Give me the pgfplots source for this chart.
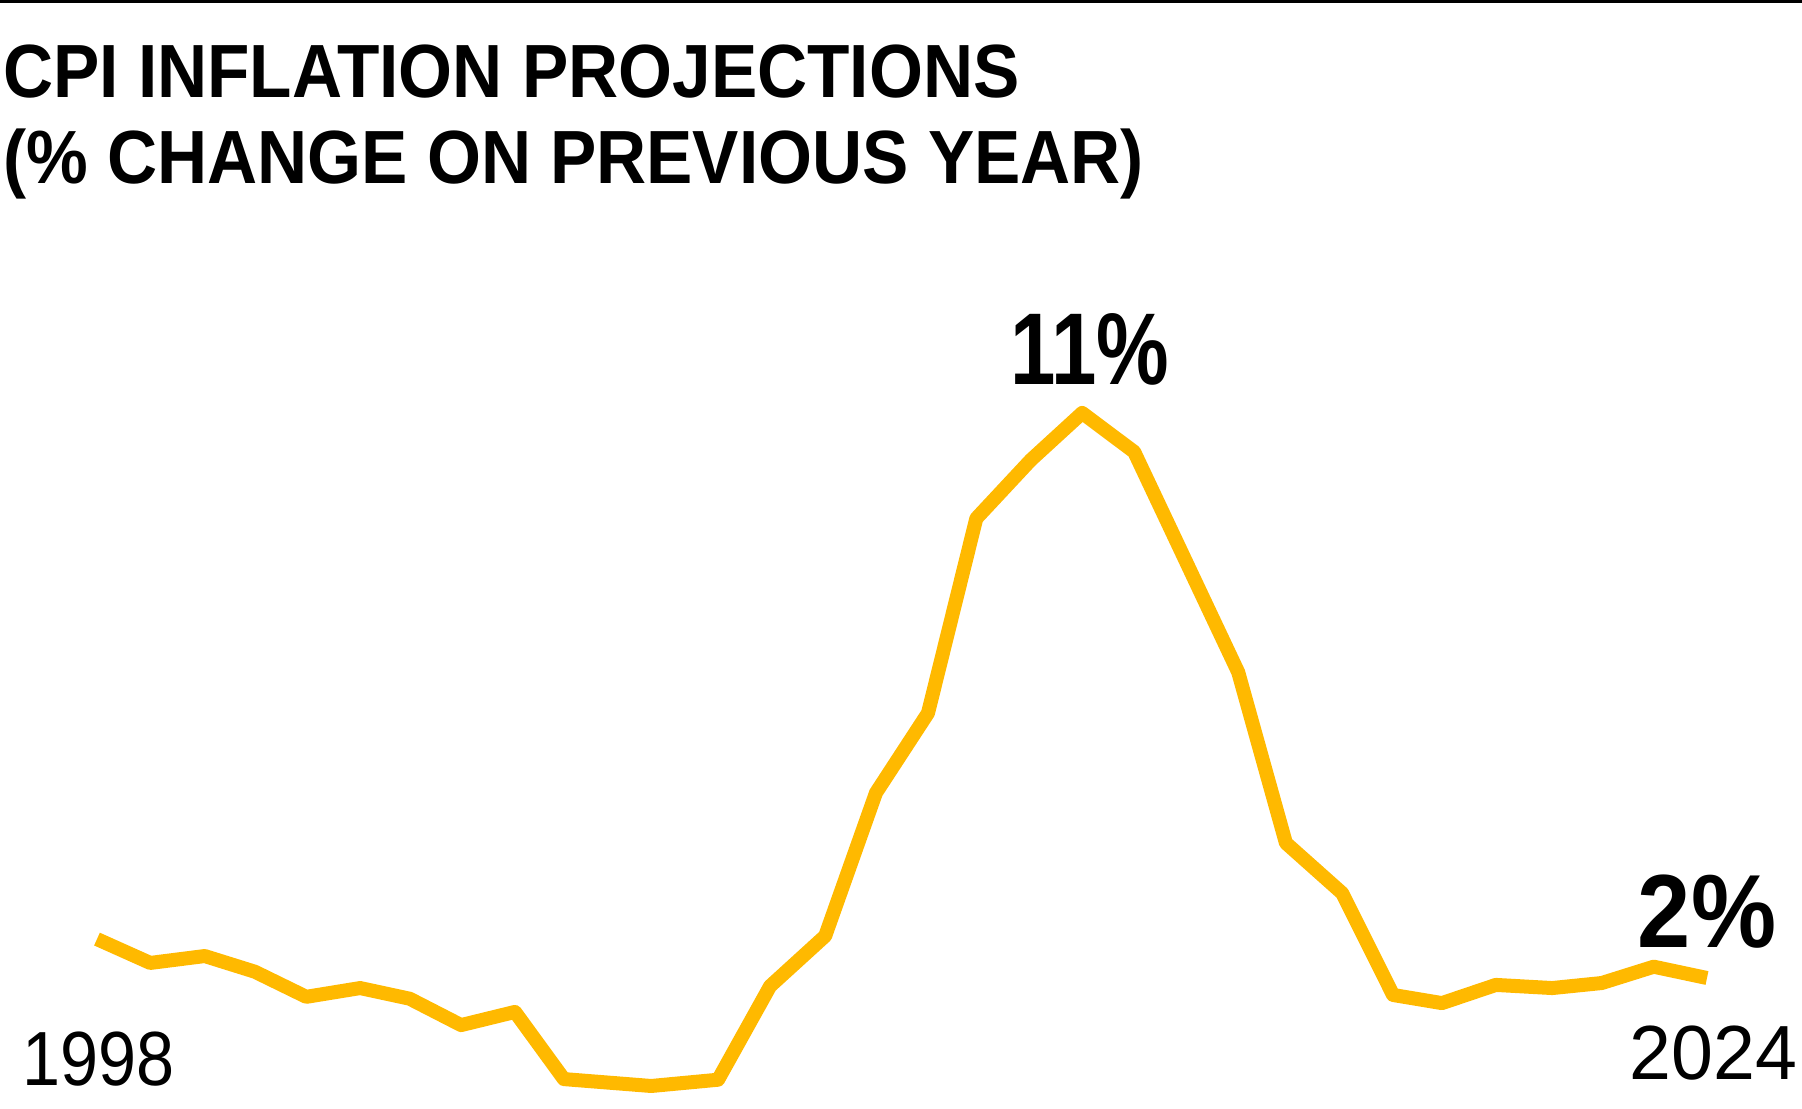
\documentclass[border=0pt]{standalone}
\usepackage{fontspec}
\setmainfont{Liberation Sans}
\newfontfamily\titlefont{Liberation Sans}[FakeStretch=0.92]
\newfontfamily\yearfont{Liberation Sans}[FakeStretch=0.89]
\newfontfamily\yearfontwide{Liberation Sans}[FakeStretch=0.98]
\newfontfamily\valfont{Liberation Sans}[FakeStretch=0.80]
\usepackage{pgfplots}
\pgfplotsset{compat=1.18}

\definecolor{amber}{HTML}{FFB900}

% CPI inflation, % change on previous year
\pgfplotstableread{
year     cpi
1998.00  2.62
1998.86  2.24
1999.74  2.35
2000.55  2.10
2001.38  1.70
2002.25  1.84
2003.05  1.67
2003.88  1.25
2004.75  1.46
2005.54  0.39
2006.95  0.28
2008.03  0.38
2008.87  1.87
2009.76  2.67
2010.58  4.95
2011.42  6.22
2012.20  9.32
2013.08  10.25
2013.91  11.00
2014.75  10.38
2016.43  6.87
2017.20  4.15
2018.11  3.35
2018.93  1.73
2019.72  1.60
2020.59  1.89
2021.50  1.84
2022.30  1.92
2023.14  2.18
2024.00  2.00
}\cpidata

\begin{document}
\begin{tikzpicture}
  \useasboundingbox (0,0) rectangle (450.5pt,277.25pt);
  % top rule
  \draw[black, line width=0.8pt] (0,276.85pt) -- (450.5pt,276.85pt);

  % title
  \node[anchor=base west, inner sep=0] at (0.6pt,252.8pt)
    {\titlefont\fontsize{18.85}{20}\selectfont\bfseries CPI INFLATION PROJECTIONS};
  \node[anchor=base west, inner sep=0] at (0.6pt,231.25pt)
    {\titlefont\fontsize{18.85}{20}\selectfont\bfseries (\% CHANGE ON PREVIOUS YEAR)};

  \begin{axis}[
      at={(24.25pt,1.35pt)},
      anchor=south west,
      scale only axis,
      width=402.5pt,
      height=188.35pt,
      xmin=1998, xmax=2024,
      ymin=0, ymax=12,
      axis lines=none,
      ticks=none,
      clip=false,
    ]
    \addplot[amber, line width=3.5pt, line join=round, line cap=butt, no markers]
      table[x=year, y=cpi] {\cpidata};
  \end{axis}

  % value callouts
  \node[anchor=base, inner sep=0] at (272.5pt,181pt)
    {\valfont\fontsize{25.5}{26}\selectfont\bfseries 11\%};
  \node[anchor=base west, inner sep=0] at (409.25pt,40.25pt)
    {\titlefont\fontsize{26}{27}\selectfont\bfseries 2\%};

  % end years
  \node[anchor=base, inner sep=0] at (24.75pt,5.75pt)
    {\yearfont\fontsize{19.2}{20}\selectfont 1998};
  \node[anchor=base east, inner sep=0] at (449.5pt,7.25pt)
    {\yearfontwide\fontsize{19.2}{20}\selectfont 2024};
\end{tikzpicture}
\end{document}
